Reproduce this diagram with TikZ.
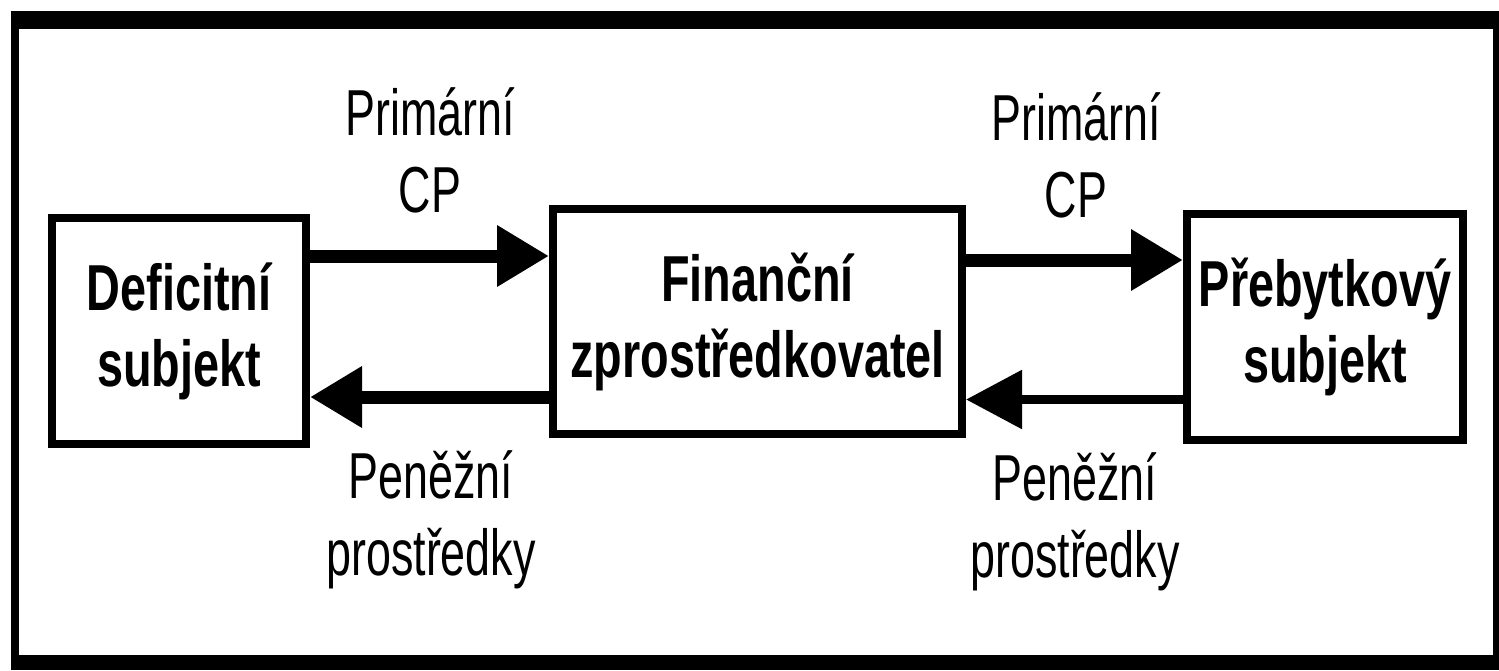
\documentclass[tikz,border=0pt]{standalone}
\usepackage{fontspec}
\setmainfont{Liberation Sans}
\newfontfamily\boxfont{Liberation Sans}[FakeStretch=0.72]
\newfontfamily\labfont{Liberation Sans}[FakeStretch=0.69]
\usetikzlibrary{arrows.meta}
\begin{document}
\begin{tikzpicture}[x=1pt,y=-1pt,
  stepbox/.style={draw=black,line width=8pt,fill=white,inner sep=0pt,
    align=center,font=\boxfont\bfseries\fontsize{65}{76}\selectfont},
  flowlabel/.style={align=center,inner sep=0pt,
    font=\labfont\fontsize{65}{77}\selectfont},
  flow/.style={line width=13pt,-{Triangle[length=52pt,width=58pt]}},
  thinflow/.style={line width=9pt,-{Triangle[length=56pt,width=57pt]}}]
\useasboundingbox (0,0) rectangle (1499,670);
% outer frame
\fill[black] (11,11) rectangle (1499,670);
\fill[white] (19,29) rectangle (1493,655);
% boxes
\node[stepbox,minimum width=254pt,minimum height=226pt] (def) at (179,331)
  {Deficitní\\subjekt};
\node[stepbox,minimum width=409pt,minimum height=225pt] (fin) at (757.5,321.5)
  {Finanční\\zprostředkovatel};
\node[stepbox,minimum width=276pt,minimum height=226pt] (pre) at (1325,327)
  {Přebytkový\\subjekt};
% arrow levels
\coordinate (y1) at (0,256);
\coordinate (y2) at (0,397);
\coordinate (y3) at (0,260);
\coordinate (y4) at (0,399.5);
\draw[flow] (def.east |- y1) -- (fin.west |- y1);
\draw[flow] (fin.west |- y2) -- (def.east |- y2);
\draw[flow] (fin.east |- y3) -- (pre.west |- y3);
\draw[thinflow] (pre.west |- y4) -- (fin.east |- y4);
% labels
\node[flowlabel] (l1) at (430,150) {Primární\\CP};
\node[flowlabel] (l2) at (431,520) {Peněžní\\prostředky};
\node[flowlabel] (l3) at (1076,155) {Primární\\CP};
\node[flowlabel] (l4) at (1075,522) {Peněžní\\prostředky};
\end{tikzpicture}
\end{document}
